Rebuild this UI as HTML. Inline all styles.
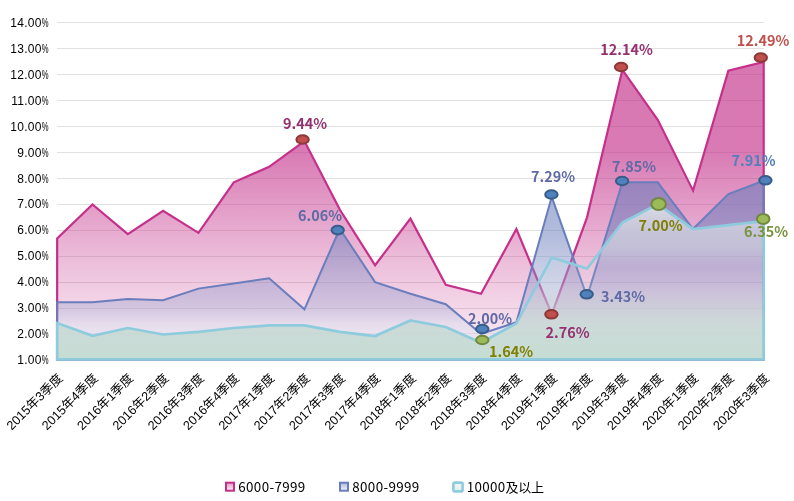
<!DOCTYPE html>
<html lang="zh"><head><meta charset="utf-8"><title>chart</title>
<style>
html,body{margin:0;padding:0;background:#fff;}
body{width:794px;height:501px;overflow:hidden;}
svg{display:block;}
text{font-family:"Liberation Sans","Noto Sans CJK SC",sans-serif;}
.yl{font-size:12px;fill:#000;letter-spacing:0.3px;}
.pc{letter-spacing:0;}
.cl{font-size:12.65px;fill:#000;}
.dl{font-size:14.4px;font-weight:bold;font-family:"Noto Sans CJK SC","Liberation Sans",sans-serif;}
.lg{font-size:13.4px;letter-spacing:0.35px;fill:#000;font-family:"Noto Sans CJK SC","Liberation Sans",sans-serif;}
</style></head><body>
<svg width="794" height="501" viewBox="0 0 794 501">
<defs>
<linearGradient id="gp" x1="0" y1="0" x2="0" y2="1"><stop offset="0" stop-color="#C3308A" stop-opacity="0.66"/><stop offset="0.3" stop-color="#C3308A" stop-opacity="0.64"/><stop offset="0.65" stop-color="#C3308A" stop-opacity="0.33"/><stop offset="1" stop-color="#C3308A" stop-opacity="0.06"/></linearGradient>
<linearGradient id="gb" x1="0" y1="0" x2="0" y2="1"><stop offset="0" stop-color="#6A7DBC" stop-opacity="0.6"/><stop offset="0.3" stop-color="#6A7DBC" stop-opacity="0.52"/><stop offset="0.69" stop-color="#96A0CD" stop-opacity="0.36"/><stop offset="0.8" stop-color="#D7DAEB" stop-opacity="0.5"/><stop offset="1" stop-color="#F0F0F8" stop-opacity="0.6"/></linearGradient>
<linearGradient id="gc" x1="0" y1="0" x2="0" y2="1"><stop offset="0" stop-color="#E2E8EA" stop-opacity="0.88"/><stop offset="0.15" stop-color="#D8DEE4" stop-opacity="0.7"/><stop offset="0.28" stop-color="#D0D6DE" stop-opacity="0.6"/><stop offset="0.4" stop-color="#D0D4E0" stop-opacity="0.12"/><stop offset="0.5" stop-color="#D0D4E0" stop-opacity="0.12"/><stop offset="0.62" stop-color="#C8D2D4" stop-opacity="0.45"/><stop offset="0.8" stop-color="#C4D9D2" stop-opacity="0.8"/><stop offset="1" stop-color="#C0DACF" stop-opacity="0.9"/></linearGradient>
<linearGradient id="lp" x1="0" y1="0" x2="0" y2="1"><stop offset="0" stop-color="#E59AC6"/><stop offset="1" stop-color="#FBF0F6"/></linearGradient>
<linearGradient id="lb" x1="0" y1="0" x2="0" y2="1"><stop offset="0" stop-color="#AEB6DA"/><stop offset="1" stop-color="#F4F4FA"/></linearGradient>
<linearGradient id="lc" x1="0" y1="0" x2="0" y2="1"><stop offset="0" stop-color="#F4F6F6"/><stop offset="1" stop-color="#E2EEEA"/></linearGradient>
</defs>
<rect width="794" height="501" fill="#fff"/>
<line x1="57.0" x2="764.0" y1="359.50" y2="359.50" stroke="#E1E1E1" stroke-width="1"/>
<line x1="57.0" x2="764.0" y1="333.50" y2="333.50" stroke="#E1E1E1" stroke-width="1"/>
<line x1="57.0" x2="764.0" y1="308.50" y2="308.50" stroke="#E1E1E1" stroke-width="1"/>
<line x1="57.0" x2="764.0" y1="282.50" y2="282.50" stroke="#E1E1E1" stroke-width="1"/>
<line x1="57.0" x2="764.0" y1="256.50" y2="256.50" stroke="#E1E1E1" stroke-width="1"/>
<line x1="57.0" x2="764.0" y1="230.50" y2="230.50" stroke="#E1E1E1" stroke-width="1"/>
<line x1="57.0" x2="764.0" y1="204.50" y2="204.50" stroke="#E1E1E1" stroke-width="1"/>
<line x1="57.0" x2="764.0" y1="178.50" y2="178.50" stroke="#E1E1E1" stroke-width="1"/>
<line x1="57.0" x2="764.0" y1="152.50" y2="152.50" stroke="#E1E1E1" stroke-width="1"/>
<line x1="57.0" x2="764.0" y1="126.50" y2="126.50" stroke="#E1E1E1" stroke-width="1"/>
<line x1="57.0" x2="764.0" y1="100.50" y2="100.50" stroke="#E1E1E1" stroke-width="1"/>
<line x1="57.0" x2="764.0" y1="74.50" y2="74.50" stroke="#E1E1E1" stroke-width="1"/>
<line x1="57.0" x2="764.0" y1="48.50" y2="48.50" stroke="#E1E1E1" stroke-width="1"/>
<line x1="57.0" x2="764.0" y1="22.50" y2="22.50" stroke="#E1E1E1" stroke-width="1"/>
<text x="48.6" y="364.00" text-anchor="end" class="yl">1.00<tspan class="pc" textLength="6.8" lengthAdjust="spacingAndGlyphs">%</tspan></text>
<text x="48.6" y="338.08" text-anchor="end" class="yl">2.00<tspan class="pc" textLength="6.8" lengthAdjust="spacingAndGlyphs">%</tspan></text>
<text x="48.6" y="312.15" text-anchor="end" class="yl">3.00<tspan class="pc" textLength="6.8" lengthAdjust="spacingAndGlyphs">%</tspan></text>
<text x="48.6" y="286.23" text-anchor="end" class="yl">4.00<tspan class="pc" textLength="6.8" lengthAdjust="spacingAndGlyphs">%</tspan></text>
<text x="48.6" y="260.31" text-anchor="end" class="yl">5.00<tspan class="pc" textLength="6.8" lengthAdjust="spacingAndGlyphs">%</tspan></text>
<text x="48.6" y="234.38" text-anchor="end" class="yl">6.00<tspan class="pc" textLength="6.8" lengthAdjust="spacingAndGlyphs">%</tspan></text>
<text x="48.6" y="208.46" text-anchor="end" class="yl">7.00<tspan class="pc" textLength="6.8" lengthAdjust="spacingAndGlyphs">%</tspan></text>
<text x="48.6" y="182.54" text-anchor="end" class="yl">8.00<tspan class="pc" textLength="6.8" lengthAdjust="spacingAndGlyphs">%</tspan></text>
<text x="48.6" y="156.62" text-anchor="end" class="yl">9.00<tspan class="pc" textLength="6.8" lengthAdjust="spacingAndGlyphs">%</tspan></text>
<text x="48.6" y="130.69" text-anchor="end" class="yl">10.00<tspan class="pc" textLength="6.8" lengthAdjust="spacingAndGlyphs">%</tspan></text>
<text x="48.6" y="104.77" text-anchor="end" class="yl">11.00<tspan class="pc" textLength="6.8" lengthAdjust="spacingAndGlyphs">%</tspan></text>
<text x="48.6" y="78.85" text-anchor="end" class="yl">12.00<tspan class="pc" textLength="6.8" lengthAdjust="spacingAndGlyphs">%</tspan></text>
<text x="48.6" y="52.92" text-anchor="end" class="yl">13.00<tspan class="pc" textLength="6.8" lengthAdjust="spacingAndGlyphs">%</tspan></text>
<text x="48.6" y="27.00" text-anchor="end" class="yl">14.00<tspan class="pc" textLength="6.8" lengthAdjust="spacingAndGlyphs">%</tspan></text>
<path d="M57.15,359.40 L57.15,238.58 L92.48,204.36 L127.81,234.17 L163.13,210.84 L198.46,232.88 L233.79,182.33 L269.12,166.77 L304.44,141.11 L339.77,209.55 L375.10,265.28 L410.43,218.62 L445.75,284.72 L481.08,293.80 L516.41,228.99 L551.74,314.28 L587.06,217.32 L622.39,69.82 L657.72,119.85 L693.05,190.62 L728.37,70.60 L763.70,62.04 L763.70,359.40 Z" fill="url(#gp)" stroke="#C4308A" stroke-width="2.2" stroke-linejoin="miter"/>
<path d="M57.15,359.40 L57.15,302.35 L92.48,302.35 L127.81,298.98 L163.13,300.28 L198.46,288.61 L233.79,283.43 L269.12,278.24 L304.44,309.35 L339.77,228.73 L375.10,282.13 L410.43,293.80 L445.75,304.17 L481.08,333.98 L516.41,322.31 L551.74,196.84 L587.06,296.91 L622.39,182.33 L657.72,182.33 L693.05,228.99 L728.37,193.99 L763.70,180.77 L763.70,359.40 Z" fill="url(#gb)" stroke="#6A7DBC" stroke-width="2.0" stroke-linejoin="miter"/>
<path d="M57.15,359.40 L57.15,323.09 L92.48,335.79 L127.81,328.01 L163.13,334.50 L198.46,331.90 L233.79,328.01 L269.12,325.42 L304.44,325.42 L339.77,331.90 L375.10,336.05 L410.43,320.50 L445.75,326.98 L481.08,342.79 L516.41,323.35 L551.74,257.50 L587.06,268.65 L622.39,222.51 L657.72,204.36 L693.05,228.99 L728.37,225.10 L763.70,221.21 L763.70,359.40 Z" fill="url(#gc)" stroke="#8ECBDD" stroke-width="2.7" stroke-linejoin="miter"/>
<text transform="translate(63.35,379.00) rotate(-45)" text-anchor="end" class="cl">2015年3季度</text>
<text transform="translate(98.68,379.00) rotate(-45)" text-anchor="end" class="cl">2015年4季度</text>
<text transform="translate(134.00,379.00) rotate(-45)" text-anchor="end" class="cl">2016年1季度</text>
<text transform="translate(169.33,379.00) rotate(-45)" text-anchor="end" class="cl">2016年2季度</text>
<text transform="translate(204.66,379.00) rotate(-45)" text-anchor="end" class="cl">2016年3季度</text>
<text transform="translate(239.99,379.00) rotate(-45)" text-anchor="end" class="cl">2016年4季度</text>
<text transform="translate(275.31,379.00) rotate(-45)" text-anchor="end" class="cl">2017年1季度</text>
<text transform="translate(310.64,379.00) rotate(-45)" text-anchor="end" class="cl">2017年2季度</text>
<text transform="translate(345.97,379.00) rotate(-45)" text-anchor="end" class="cl">2017年3季度</text>
<text transform="translate(381.30,379.00) rotate(-45)" text-anchor="end" class="cl">2017年4季度</text>
<text transform="translate(416.62,379.00) rotate(-45)" text-anchor="end" class="cl">2018年1季度</text>
<text transform="translate(451.95,379.00) rotate(-45)" text-anchor="end" class="cl">2018年2季度</text>
<text transform="translate(487.28,379.00) rotate(-45)" text-anchor="end" class="cl">2018年3季度</text>
<text transform="translate(522.61,379.00) rotate(-45)" text-anchor="end" class="cl">2018年4季度</text>
<text transform="translate(557.94,379.00) rotate(-45)" text-anchor="end" class="cl">2019年1季度</text>
<text transform="translate(593.26,379.00) rotate(-45)" text-anchor="end" class="cl">2019年2季度</text>
<text transform="translate(628.59,379.00) rotate(-45)" text-anchor="end" class="cl">2019年3季度</text>
<text transform="translate(663.92,379.00) rotate(-45)" text-anchor="end" class="cl">2019年4季度</text>
<text transform="translate(699.25,379.00) rotate(-45)" text-anchor="end" class="cl">2020年1季度</text>
<text transform="translate(734.57,379.00) rotate(-45)" text-anchor="end" class="cl">2020年2季度</text>
<text transform="translate(769.90,379.00) rotate(-45)" text-anchor="end" class="cl">2020年3季度</text>
<ellipse cx="302.6" cy="139.5" rx="6.2" ry="4.3" fill="#C0504D" stroke="#8C3836" stroke-width="2"/>
<ellipse cx="337.7" cy="230.1" rx="6.2" ry="4.3" fill="#4F81BD" stroke="#385D8A" stroke-width="2"/>
<ellipse cx="482.3" cy="329.0" rx="6.2" ry="4.3" fill="#4F81BD" stroke="#385D8A" stroke-width="2"/>
<ellipse cx="482.3" cy="340.0" rx="6.2" ry="4.3" fill="#9BBB59" stroke="#71893F" stroke-width="2"/>
<ellipse cx="551.4" cy="194.5" rx="6.2" ry="4.3" fill="#4F81BD" stroke="#385D8A" stroke-width="2"/>
<ellipse cx="551.4" cy="314.3" rx="6.2" ry="4.3" fill="#C0504D" stroke="#8C3836" stroke-width="2"/>
<ellipse cx="586.7" cy="294.3" rx="6.2" ry="4.3" fill="#4F81BD" stroke="#385D8A" stroke-width="2"/>
<ellipse cx="621.1" cy="67.0" rx="6.2" ry="4.3" fill="#C0504D" stroke="#8C3836" stroke-width="2"/>
<ellipse cx="622.1" cy="181.0" rx="6.2" ry="4.3" fill="#4F81BD" stroke="#385D8A" stroke-width="2"/>
<ellipse cx="658.6" cy="204.1" rx="7.3" ry="6.0" fill="#9BBB59" stroke="#71893F" stroke-width="2"/>
<ellipse cx="760.8" cy="57.6" rx="6.2" ry="4.3" fill="#C0504D" stroke="#8C3836" stroke-width="2"/>
<ellipse cx="765.4" cy="180.3" rx="6.2" ry="4.3" fill="#4F81BD" stroke="#385D8A" stroke-width="2"/>
<ellipse cx="763.2" cy="218.9" rx="6.3" ry="5.0" fill="#9BBB59" stroke="#71893F" stroke-width="2"/>
<text x="305.0" y="129.0" text-anchor="middle" class="dl" fill="#953171">9.44%</text>
<text x="320.0" y="221.0" text-anchor="middle" class="dl" fill="#5F6AA5">6.06%</text>
<text x="490.0" y="324.0" text-anchor="middle" class="dl" fill="#5F6AA5">2.00%</text>
<text x="511.0" y="357.0" text-anchor="middle" class="dl" fill="#7F7F00">1.64%</text>
<text x="553.0" y="182.0" text-anchor="middle" class="dl" fill="#5F6AA5">7.29%</text>
<text x="567.5" y="338.0" text-anchor="middle" class="dl" fill="#953171">2.76%</text>
<text x="623.0" y="302.0" text-anchor="middle" class="dl" fill="#5F6AA5">3.43%</text>
<text x="626.5" y="55.0" text-anchor="middle" class="dl" fill="#953171">12.14%</text>
<text x="634.0" y="172.0" text-anchor="middle" class="dl" fill="#5F6AA5">7.85%</text>
<text x="660.5" y="231.0" text-anchor="middle" class="dl" fill="#7F7F00">7.00%</text>
<text x="763.0" y="46.0" text-anchor="middle" class="dl" fill="#C0504D">12.49%</text>
<text x="753.5" y="166.0" text-anchor="middle" class="dl" fill="#4F81BD">7.91%</text>
<text x="766.0" y="237.0" text-anchor="middle" class="dl" fill="#77933C">6.35%</text>
<rect x="226.0" y="482.7" width="8.0" height="8.0" rx="0" fill="url(#lp)" stroke="#C4308A" stroke-width="2.0"/>
<rect x="340.0" y="482.7" width="8.0" height="8.0" rx="0" fill="url(#lb)" stroke="#6A7DBC" stroke-width="2.0"/>
<rect x="453.4" y="482.6" width="9.2" height="8.8" rx="1.5" fill="url(#lc)" stroke="#8ECBDD" stroke-width="2.6"/>
<text x="238.3" y="491.8" class="lg">6000-7999</text>
<text x="352.3" y="491.8" class="lg">8000-9999</text>
<text x="466.7" y="491.8" class="lg">10000<tspan letter-spacing="-0.3" font-size="13">及以上</tspan></text>
</svg>
</body></html>
